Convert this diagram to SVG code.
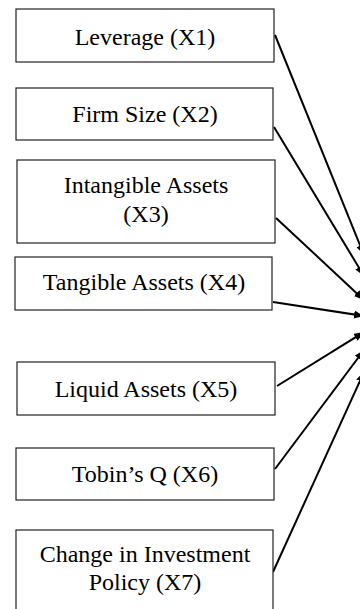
<svg xmlns="http://www.w3.org/2000/svg" width="360" height="609" viewBox="0 0 360 609">
<style>
.box{fill:#fff;stroke:#222;stroke-width:1.2}
.t{font-family:"Liberation Serif","Times New Roman",serif;font-size:24px;fill:#000;text-anchor:middle}
.c{stroke:#000;stroke-width:2;fill:none;marker-end:url(#ah)}
</style>
<defs>
<marker id="ah" markerUnits="userSpaceOnUse" markerWidth="12" markerHeight="10" refX="10" refY="4" orient="auto">
<path d="M0,0 L10,4 L0,8 Z" fill="#000"/>
</marker>
</defs>
<rect width="360" height="609" fill="#fff"/>
<g id="connectors">
<line class="c" x1="275" y1="35" x2="364" y2="255"/>
<line class="c" x1="274" y1="127" x2="364" y2="276"/>
<line class="c" x1="276" y1="218" x2="364" y2="300"/>
<line class="c" x1="273" y1="302" x2="364" y2="316"/>
<line class="c" x1="277" y1="386" x2="364" y2="332"/>
<line class="c" x1="275" y1="469" x2="364" y2="350"/>
<line class="c" x1="273" y1="572" x2="364" y2="372"/>
</g>
<g id="x1"><rect class="box" x="16" y="9" width="258" height="53"/><text class="t" x="145" y="45">Leverage (X1)</text></g>
<g id="x2"><rect class="box" x="16" y="88" width="257" height="52"/><text class="t" x="145" y="122">Firm Size (X2)</text></g>
<g id="x3"><rect class="box" x="17" y="160" width="258" height="83"/><text class="t" x="146" y="193">Intangible Assets</text><text class="t" x="146" y="222">(X3)</text></g>
<g id="x4"><rect class="box" x="15" y="257" width="257" height="53"/><text class="t" x="144" y="290">Tangible Assets (X4)</text></g>
<g id="x5"><rect class="box" x="17" y="362" width="258" height="53"/><text class="t" x="146" y="397">Liquid Assets (X5)</text></g>
<g id="x6"><rect class="box" x="16" y="448" width="258" height="52"/><text class="t" x="145" y="482">Tobin’s Q (X6)</text></g>
<g id="x7"><rect class="box" x="16" y="530" width="257" height="84"/><text class="t" x="145" y="562">Change in Investment</text><text class="t" x="145" y="590">Policy (X7)</text></g>
</svg>
